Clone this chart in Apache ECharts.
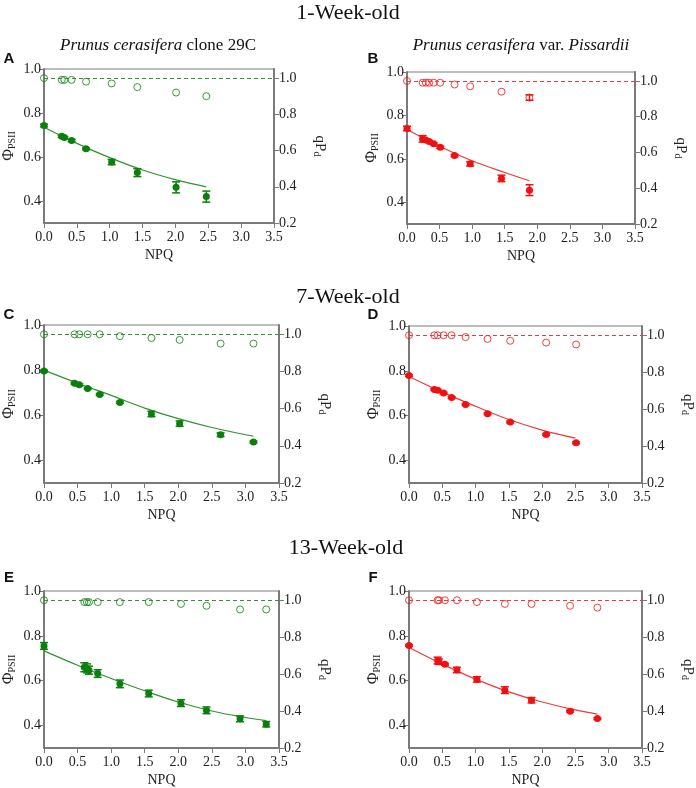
<!DOCTYPE html>
<html><head><meta charset="utf-8">
<script src="https://cdn.jsdelivr.net/npm/echarts@6/dist/echarts.min.js"></script>
<style>html,body{margin:0;padding:0;background:#fff}#c{width:696px;height:788px}</style>
</head><body><div id="c"></div>
<script>
// ---- data ----
const xTicks = [0, 0.5, 1.0, 1.5, 2.0, 2.5, 3.0, 3.5];
const phiTicks = [0.4, 0.6, 0.8, 1.0];
const qpTicks = [0.2, 0.4, 0.6, 0.8, 1.0];

// Panel A (1-week, clone 29C)
const npqA = [0, 0.27, 0.31, 0.42, 0.64, 1.03, 1.42, 2.01, 2.47];
const phiA = [0.743, 0.694, 0.689, 0.675, 0.637, 0.577, 0.529, 0.462, 0.420];
const phiErrA = [0.006, 0.005, 0.004, 0.005, 0.004, 0.012, 0.018, 0.025, 0.025];
const qpA = [1.0, 0.99, 0.99, 0.99, 0.98, 0.97, 0.95, 0.92, 0.90];
const qpErrA = [0, 0, 0, 0, 0, 0, 0, 0, 0];
const fitXA = [0, 0.5, 1.0, 1.5, 2.0, 2.47];
const fitYA = [0.735, 0.662, 0.597, 0.541, 0.497, 0.464];

// Panel B (1-week, Pissardii)
const npqB = [0, 0.24, 0.29, 0.34, 0.41, 0.51, 0.73, 0.97, 1.45, 1.88];
const phiB = [0.740, 0.692, 0.687, 0.680, 0.669, 0.653, 0.615, 0.577, 0.510, 0.456];
const phiErrB = [0.010, 0.015, 0.005, 0.004, 0.004, 0.005, 0.005, 0.010, 0.015, 0.025];
const qpB = [1.0, 0.99, 0.99, 0.99, 0.99, 0.99, 0.98, 0.97, 0.94, 0.907];
const qpErrB = [0, 0, 0, 0, 0, 0, 0, 0, 0, 0.015];
const fitXB = [0, 0.5, 1.0, 1.5, 1.88];
const fitYB = [0.735, 0.658, 0.591, 0.537, 0.499];

// Panel C (7-week, clone 29C)
const npqC = [0, 0.455, 0.525, 0.65, 0.83, 1.13, 1.60, 2.02, 2.63, 3.12];
const phiC = [0.796, 0.742, 0.735, 0.719, 0.692, 0.657, 0.606, 0.563, 0.514, 0.482];
const phiErrC = [0.004, 0.004, 0.005, 0.004, 0.004, 0.004, 0.012, 0.012, 0.008, 0.004];
const qpC = [1.0, 1.0, 1.0, 1.0, 1.0, 0.99, 0.98, 0.97, 0.95, 0.95];
const qpErrC = [0, 0, 0, 0, 0, 0, 0, 0, 0, 0];
const fitXC = [0, 0.5, 1.0, 1.5, 2.0, 2.5, 3.12];
const fitYC = [0.800, 0.742, 0.688, 0.632, 0.585, 0.546, 0.507];

// Panel D (7-week, Pissardii)
const npqD = [0, 0.38, 0.43, 0.52, 0.64, 0.85, 1.18, 1.52, 2.06, 2.51];
const phiD = [0.779, 0.717, 0.714, 0.701, 0.681, 0.650, 0.609, 0.572, 0.516, 0.479];
const phiErrD = [0.004, 0.004, 0.004, 0.004, 0.004, 0.004, 0.004, 0.004, 0.004, 0.004];
const qpD = [1.0, 1.0, 1.0, 1.0, 1.0, 0.99, 0.98, 0.97, 0.96, 0.95];
const qpErrD = [0, 0, 0, 0, 0, 0, 0, 0, 0, 0];
const fitXD = [0, 0.5, 1.0, 1.5, 2.0, 2.5];
const fitYD = [0.775, 0.705, 0.642, 0.583, 0.536, 0.500];

// Panel E (13-week, clone 29C)
const npqE = [0, 0.60, 0.64, 0.67, 0.80, 1.13, 1.56, 2.04, 2.42, 2.92, 3.31];
const phiE = [0.755, 0.660, 0.655, 0.647, 0.632, 0.586, 0.543, 0.500, 0.468, 0.430, 0.406];
const phiErrE = [0.015, 0.020, 0.020, 0.018, 0.017, 0.017, 0.015, 0.015, 0.015, 0.013, 0.012];
const qpE = [1.0, 0.99, 0.99, 0.99, 0.99, 0.99, 0.99, 0.98, 0.97, 0.95, 0.95];
const qpErrE = [0, 0, 0, 0, 0, 0, 0, 0, 0, 0, 0];
const fitXE = [0, 0.5, 1.0, 1.5, 2.0, 2.5, 3.0, 3.31];
const fitYE = [0.733, 0.669, 0.610, 0.555, 0.505, 0.465, 0.436, 0.422];

// Panel F (13-week, Pissardii)
const npqF = [0, 0.43, 0.45, 0.54, 0.72, 1.02, 1.44, 1.84, 2.42, 2.83];
const phiF = [0.757, 0.690, 0.685, 0.673, 0.648, 0.606, 0.558, 0.513, 0.464, 0.431];
const phiErrF = [0.004, 0.015, 0.012, 0.004, 0.012, 0.012, 0.015, 0.012, 0.004, 0.004];
const qpF = [1.0, 1.0, 1.0, 1.0, 1.0, 0.99, 0.98, 0.98, 0.97, 0.96];
const qpErrF = [0, 0, 0, 0, 0, 0, 0, 0, 0, 0];
const fitXF = [0, 0.5, 1.0, 1.5, 2.0, 2.5, 2.83];
const fitYF = [0.748, 0.674, 0.607, 0.550, 0.505, 0.470, 0.451];

// ---- styling / layout ----
const SERIF = '"Liberation Serif", "Times New Roman", serif';
const GREEN = '#0b7f0b', GREEN_L = '#2f932f';
const RED = '#f01010', RED_L = '#f03a3a';
const AXIS = '#7a7a7a';

const grids = [
  {left: 43, top: 69, width: 231, height: 154},
  {left: 407, top: 72, width: 228, height: 152},
  {left: 43, top: 325, width: 236, height: 158},
  {left: 409, top: 326, width: 236, height: 157},
  {left: 44, top: 591, width: 235, height: 157},
  {left: 409, top: 591, width: 237, height: 157}
];

const panels = [
  {npq: npqA, phi: phiA, err: phiErrA, qp: qpA, qpErr: qpErrA, fx: fitXA, fy: fitYA, c: GREEN, cl: GREEN_L},
  {npq: npqB, phi: phiB, err: phiErrB, qp: qpB, qpErr: qpErrB, fx: fitXB, fy: fitYB, c: RED, cl: RED_L},
  {npq: npqC, phi: phiC, err: phiErrC, qp: qpC, qpErr: qpErrC, fx: fitXC, fy: fitYC, c: GREEN, cl: GREEN_L},
  {npq: npqD, phi: phiD, err: phiErrD, qp: qpD, qpErr: qpErrD, fx: fitXD, fy: fitYD, c: RED, cl: RED_L},
  {npq: npqE, phi: phiE, err: phiErrE, qp: qpE, qpErr: qpErrE, fx: fitXE, fy: fitYE, c: GREEN, cl: GREEN_L},
  {npq: npqF, phi: phiF, err: phiErrF, qp: qpF, qpErr: qpErrF, fx: fitXF, fy: fitYF, c: RED, cl: RED_L}
];

const labelStyle = {fontFamily: SERIF, fontSize: 14, color: '#222'};

const option = {
  animation: false,
  backgroundColor: '#fff',
  grid: grids.map(g => Object.assign({show: true, borderColor: AXIS, borderWidth: 1, containLabel: false}, g)),
  xAxis: [], yAxis: [], series: [],
  graphic: []
};

function errBar(color) {
  return function (params, api) {
    const x = api.value(0), y = api.value(1), e = api.value(2);
    if (!e) return null;
    const t = api.coord([x, y + e]), b = api.coord([x, y - e]);
    const w = 4;
    const st = {stroke: color, lineWidth: 1.5};
    return {type: 'group', children: [
      {type: 'line', shape: {x1: t[0], y1: t[1], x2: b[0], y2: b[1]}, style: st},
      {type: 'line', shape: {x1: t[0] - w, y1: t[1], x2: t[0] + w, y2: t[1]}, style: st},
      {type: 'line', shape: {x1: b[0] - w, y1: b[1], x2: b[0] + w, y2: b[1]}, style: st}
    ]};
  };
}

panels.forEach((p, i) => {
  option.xAxis.push({
    type: 'value', gridIndex: i, min: 0, max: 3.5, interval: 0.5,
    name: 'NPQ', nameLocation: 'middle', nameGap: 25,
    nameTextStyle: {fontFamily: SERIF, fontSize: 14, color: '#222'},
    axisLine: {show: true, lineStyle: {color: AXIS, width: 2}},
    axisTick: {show: true, length: 5, lineStyle: {color: AXIS, width: 1}},
    axisLabel: Object.assign({margin: 7, formatter: v => v.toFixed(1)}, labelStyle),
    splitLine: {show: false}
  });
  option.yAxis.push({
    type: 'value', gridIndex: i, min: 0.3, max: 1.0, position: 'left',
    name: '{a|Φ}{b|PSII}', nameLocation: 'middle', nameGap: 27, nameRotate: 90,
    nameTextStyle: {rich: {
      a: {fontFamily: SERIF, fontSize: 16, color: '#222'},
      b: {fontFamily: SERIF, fontSize: 10, color: '#222', padding: [6, 0, 0, 0]}
    }},
    axisLine: {show: true, onZero: false, lineStyle: {color: AXIS, width: 2}},
    axisTick: {show: true, length: 5, customValues: phiTicks, lineStyle: {color: AXIS, width: 1}},
    axisLabel: Object.assign({margin: 3, customValues: phiTicks, formatter: v => v.toFixed(1)}, labelStyle),
    splitLine: {show: false}
  });
  option.yAxis.push({
    type: 'value', gridIndex: i, min: 0.2, max: 1.05, position: 'right',
    name: '{a|qP}{b|d}', nameLocation: 'middle', nameGap: 38, nameRotate: -90,
    nameTextStyle: {rich: {
      a: {fontFamily: SERIF, fontSize: 15, color: '#222'},
      b: {fontFamily: SERIF, fontSize: 10, color: '#222', padding: [5, 0, 0, 0]}
    }},
    axisLine: {show: true, onZero: false, lineStyle: {color: AXIS, width: 2}},
    axisTick: {show: true, length: 5, customValues: qpTicks, lineStyle: {color: AXIS, width: 1}},
    axisLabel: Object.assign({margin: 5, customValues: qpTicks, formatter: v => v.toFixed(1)}, labelStyle),
    splitLine: {show: false}
  });
  const yl = 2 * i, yr = 2 * i + 1;
  // qPd open circles + reference dashed line at 1.0
  option.series.push({
    type: 'scatter', xAxisIndex: i, yAxisIndex: yr, symbol: 'circle', symbolSize: 7, z: 3,
    itemStyle: {color: 'rgba(0,0,0,0)', borderColor: p.c, borderWidth: 1},
    data: p.npq.map((x, k) => [x, p.qp[k]]),
    markLine: {silent: true, symbol: 'none', label: {show: false},
      lineStyle: {color: p.cl, type: [4, 3], width: 1.2},
      data: [{yAxis: 1.0}]}
  });
  option.series.push({
    type: 'custom', xAxisIndex: i, yAxisIndex: yr, z: 2,
    renderItem: errBar(p.c),
    data: p.npq.map((x, k) => [x, p.qp[k], p.qpErr[k]])
  });
  // fitted curve
  option.series.push({
    type: 'line', xAxisIndex: i, yAxisIndex: yl, smooth: 0.4, symbol: 'none', z: 2,
    lineStyle: {color: p.cl, width: 1.2},
    data: p.fx.map((x, k) => [x, p.fy[k]])
  });
  // error bars for ΦPSII
  option.series.push({
    type: 'custom', xAxisIndex: i, yAxisIndex: yl, z: 3,
    renderItem: errBar(p.c),
    data: p.npq.map((x, k) => [x, p.phi[k], p.err[k]])
  });
  // ΦPSII filled circles
  option.series.push({
    type: 'scatter', xAxisIndex: i, yAxisIndex: yl, symbol: 'circle', symbolSize: 7, z: 4,
    itemStyle: {color: p.c, opacity: 1},
    data: p.npq.map((x, k) => [x, p.phi[k]])
  });
});

function txt(text, x, y, font, extra) {
  return {type: 'text', x: x, y: y, silent: true,
    style: Object.assign({text: text, font: font, fill: '#111', align: 'center', verticalAlign: 'middle'}, extra || {})};
}
const big = '22px ' + SERIF;
const sub = '17px ' + SERIF;
const letter = 'bold 15px "Liberation Sans", Arial, sans-serif';
const subRich = {
  i: {fontFamily: SERIF, fontSize: 17, fontStyle: 'italic', fill: '#111'},
  n: {fontFamily: SERIF, fontSize: 17, fill: '#111'}
};
option.graphic.push(
  txt('1-Week-old', 348, 13, big),
  txt('7-Week-old', 348, 297, big),
  txt('13-Week-old', 346, 548, big),
  txt('{i|Prunus cerasifera}{n| clone 29C}', 158, 46, sub, {rich: subRich}),
  txt('{i|Prunus cerasifera}{n| var. }{i|Pissardii}', 521, 46, sub, {rich: subRich}),
  txt('A', 9, 59, letter),
  txt('B', 373, 59, letter),
  txt('C', 9, 315, letter),
  txt('D', 373, 315, letter),
  txt('E', 9, 578, letter),
  txt('F', 373, 578, letter)
);

const chart = echarts.init(document.getElementById('c'), null, {renderer: 'canvas'});
chart.setOption(option);
</script>
</body></html>
